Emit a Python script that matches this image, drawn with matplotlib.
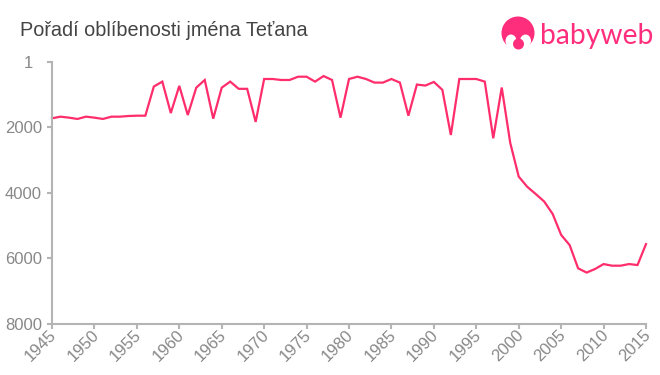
import numpy as np
import matplotlib
matplotlib.use("Agg")
import matplotlib.pyplot as plt
from matplotlib.patches import Circle, Ellipse
from matplotlib.transforms import ScaledTranslation

years = list(range(1945, 2016))
ranks = [1720, 1670, 1700, 1740, 1670, 1700, 1740, 1670, 1670, 1650,
         1640, 1640, 750, 600, 1560, 730, 1620, 785, 550, 1730,
         785, 600, 820, 820, 1830, 520, 520, 550, 550, 450,
         450, 600, 430, 550, 1700, 520, 450, 520, 630, 630,
         520, 630, 1640, 690, 720, 610, 850, 2230, 520, 520,
         520, 600, 2330, 780, 2470, 3500, 3810, 4030, 4260, 4640,
         5280, 5590, 6300, 6430, 6320, 6170, 6220, 6220, 6170, 6200,
         5560]
year_ticks = list(range(1945, 2016, 5))
rank_ticks = [1, 2000, 4000, 6000, 8000]
rank_labels = ["1", "2000", "4000", "6000", "8000"]
title = "Pořadí oblíbenosti jména Teťana"

PINK = "#ff2d6b"
LOGO = "#ff2e7c"
GREY = "#888888"
AXIS = "#b4b4b4"
W, H = 660, 375

plt.rcParams["font.family"] = "Liberation Sans"

fig = plt.figure(figsize=(W / 100, H / 100), dpi=100, facecolor="white")
ax = fig.add_axes([52 / W, 1 - 324 / H, (646 - 52) / W, (324 - 62) / H])
ax.plot(years, ranks, color=PINK, lw=1.6, clip_on=False, solid_joinstyle="miter")
ax.set_xlim(1945, 2015)
ax.set_ylim(8000, 1)
ax.spines["top"].set_visible(False)
ax.spines["right"].set_visible(False)
for s in ("left", "bottom"):
    ax.spines[s].set_color(AXIS)
    ax.spines[s].set_linewidth(1.5)
ax.set_xticks(year_ticks)
ax.set_xticklabels(year_ticks, rotation=45, ha="right", rotation_mode="anchor")
ax.set_yticks(rank_ticks)
ax.set_yticklabels(rank_labels)
ax.tick_params(axis="both", colors=AXIS, labelcolor=GREY, labelsize=12, width=1.5, length=3.5)
ax.tick_params(axis="x", pad=0)
ax.tick_params(axis="y", pad=3.8)

# nudge the slanted year labels up and left, closer to their ticks
for lab in ax.get_xticklabels():
    lab.set_transform(lab.get_transform() + ScaledTranslation(-3 / 100, 2 / 100, fig.dpi_scale_trans))

# the "1" sits further left than the other rank labels
one = ax.get_yticklabels()[0]
one.set_transform(one.get_transform() + ScaledTranslation(-9 / 100, 0, fig.dpi_scale_trans))

fig.text(20 / W, 1 - 30 / H, title, fontsize=14.35, color="#444444", va="center", ha="left")

# logo, drawn in pixel coordinates on a full-figure overlay
logo = fig.add_axes([0, 0, 1, 1], facecolor="none")
logo.set_xlim(0, W)
logo.set_ylim(H, 0)
logo.axis("off")
logo.add_patch(Circle((518, 33), 16.5, color=LOGO, lw=0))
logo.add_patch(Ellipse((511, 41), 11, 13, color="white", lw=0))
logo.add_patch(Ellipse((525.5, 41), 11, 13, color="white", lw=0))
logo.add_patch(Ellipse((518, 48), 32, 10, color="white", lw=0))
logo.add_patch(Circle((518.5, 44), 5.5, color=LOGO, lw=0))
logo.text(540, 36, "babyweb", fontsize=20.3, color=LOGO, family="Lato", va="center", ha="left")

fig.savefig("out.png", dpi=100, facecolor="white")
